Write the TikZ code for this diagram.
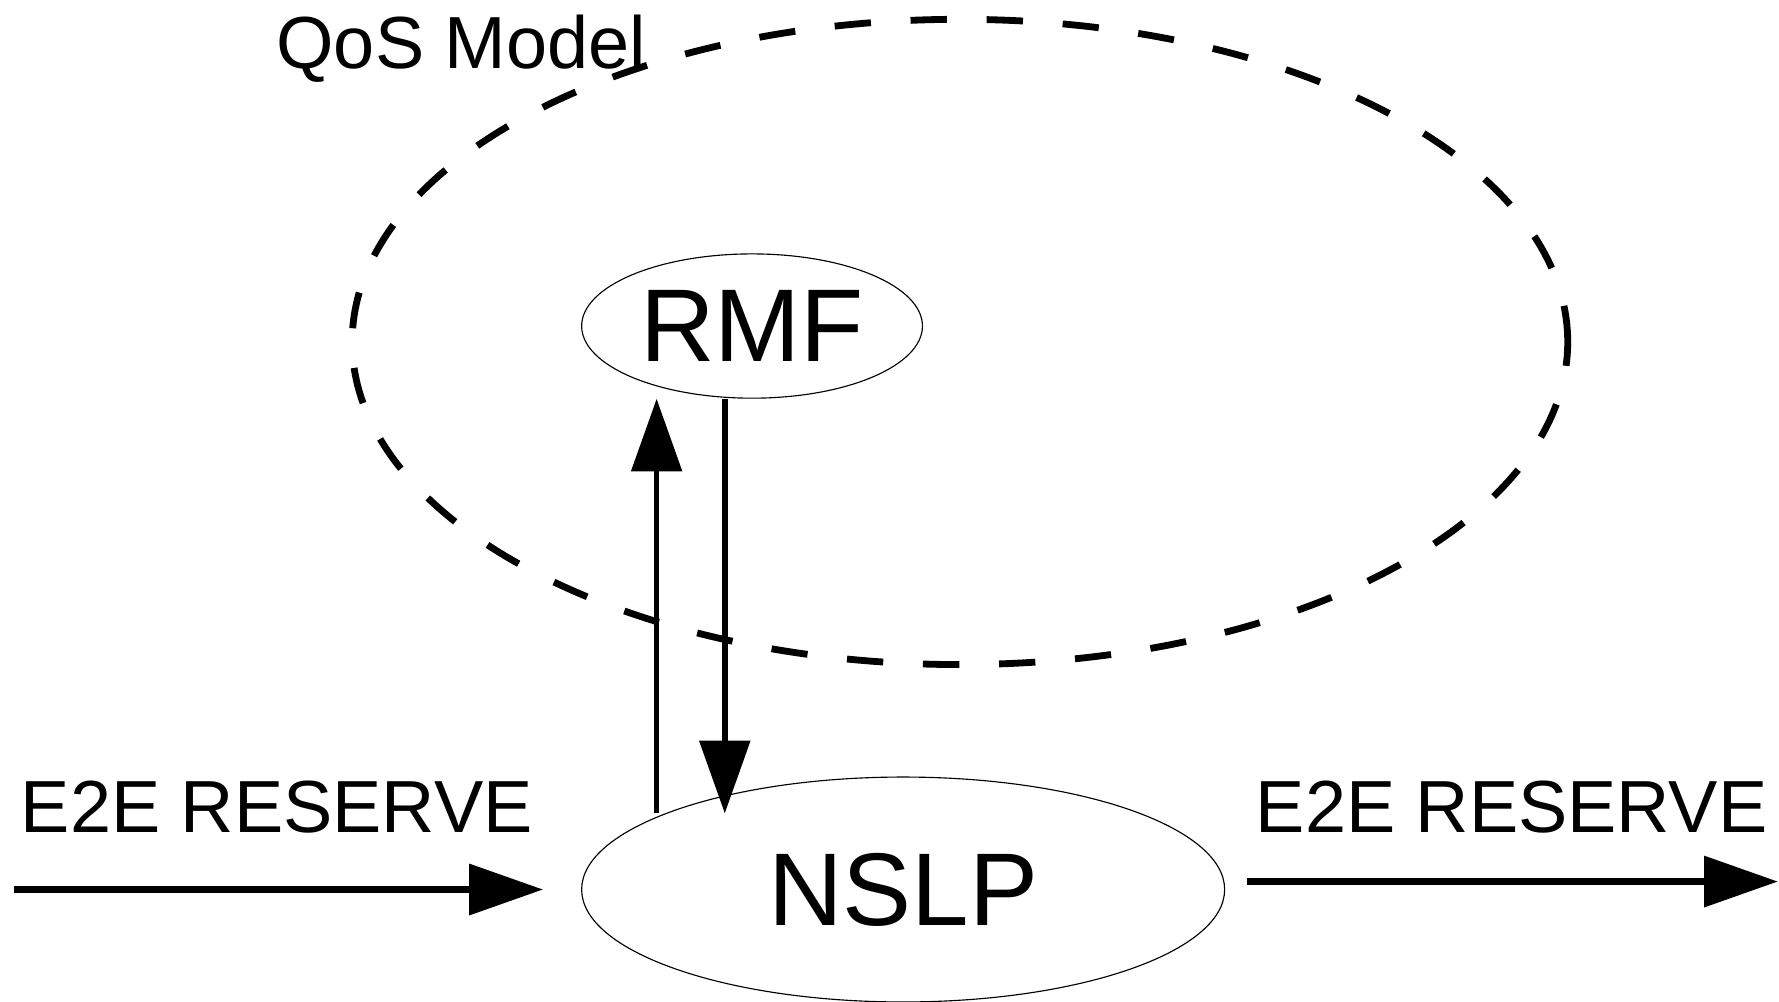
\documentclass[tikz,border=0pt]{standalone}
\usepackage{fontspec}
\setmainfont{Liberation Sans}
\usetikzlibrary{shapes.geometric,arrows.meta}
\begin{document}
\begin{tikzpicture}[x=0.5pt,y=-0.5pt,
  thinell/.style={draw=black,line width=0.5pt,ellipse,inner sep=0pt},
  qosell/.style={draw=black,line width=3pt,ellipse,inner sep=0pt,dash pattern=on 16pt off 17.5pt},
  bigtxt/.style={font=\fontsize{45.5}{50}\selectfont},
  smalltxt/.style={font=\fontsize{32.5}{38}\selectfont,inner sep=0pt,anchor=base west},
  harrow/.style={line width=3pt,-{Triangle[length=32.5pt,width=22pt]}},
  varrow/.style={line width=2.5pt,-{Triangle[length=32pt,width=22pt]}}]
\useasboundingbox (0,0) rectangle (1566,882);
% QoS model boundary
\node[qosell,minimum width=535pt,minimum height=284pt] (qos) at (845,301) {};
\node[smalltxt] (qoslabel) at (243,60) {QoS Model};
% RMF and NSLP
\node[thinell,bigtxt,minimum width=150pt,minimum height=63.5pt] (RMF) at (662,287) {RMF};
\node[thinell,bigtxt,minimum width=283pt,minimum height=99pt] (NSLP) at (795,783) {NSLP};
% vertical arrows
\coordinate (upstart) at (578,716);
\coordinate (downend) at (638,716);
\draw[varrow] (upstart) -- (upstart |- RMF.south);
\draw[varrow] (downend |- RMF.south) -- (downend);
% horizontal arrows
\coordinate (inl) at (12,783);
\coordinate (inr) at (478,783);
\coordinate (outl) at (1098,776);
\coordinate (outr) at (1565,776);
\draw[harrow] (inl) -- (inr);
\draw[harrow] (outl) -- (outr);
\node[smalltxt] (inlabel) at (18,733) {E2E RESERVE};
\node[smalltxt] (outlabel) at (1105,733) {E2E RESERVE};
\end{tikzpicture}
\end{document}
